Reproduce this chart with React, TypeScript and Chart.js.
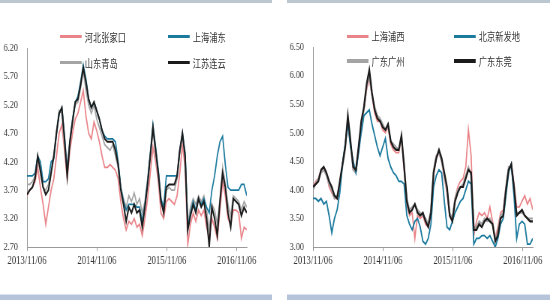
import React, { useEffect, useRef } from "react";
import { Chart, registerables } from "chart.js";
Chart.register(...registerables);

// x positions are two-week steps from 2013/11/06
const xTickLabels = ["2013/11/06", "2014/11/06", "2015/11/06", "2016/11/06"];
const xTickIndex = [0, 26.1, 52.2, 78.3];

// ---- left chart ----
const leftNames = ["河北张家口", "上海浦东", "山东青岛", "江苏连云"];
const leftYTicks = [2.7, 3.2, 3.7, 4.2, 4.7, 5.2, 5.7, 6.2];
const leftPink = [3.60, 3.70, 3.75, 3.85, 4.10, 3.75, 3.45, 3.10, 3.40, 3.70, 3.90, 4.30, 4.70, 4.85, 4.40, 3.90, 4.40, 4.70, 4.95, 5.05, 5.25, 5.45, 5.00, 4.70, 4.60, 4.90, 4.75, 4.55, 4.30, 4.10, 4.10, 4.15, 4.10, 4.05, 3.90, 3.50, 3.20, 3.00, 3.15, 3.10, 3.20, 3.05, 3.10, 2.90, 3.20, 3.55, 4.00, 4.45, 4.20, 3.85, 3.30, 3.20, 3.50, 3.55, 3.50, 3.45, 3.60, 4.00, 4.50, 4.10, 2.75, 3.10, 3.30, 3.15, 3.35, 3.25, 3.35, 3.05, 2.85, 3.20, 3.05, 2.85, 3.35, 3.85, 3.60, 3.20, 3.10, 3.35, 3.35, 3.30, 2.85, 3.05, 3.00];
const leftTeal = [3.95, 3.95, 3.95, 4.00, 4.30, 4.20, 3.85, 3.85, 3.90, 4.20, 4.25, 4.70, 5.05, 5.15, 4.65, 4.05, 4.55, 4.95, 5.25, 5.35, 5.60, 5.90, 5.65, 5.30, 5.15, 5.25, 5.10, 4.95, 4.75, 4.65, 4.60, 4.60, 4.60, 4.55, 4.20, 3.75, 3.50, 3.35, 3.45, 3.45, 3.45, 3.40, 3.40, 3.15, 3.45, 3.85, 4.35, 4.85, 4.45, 4.05, 3.55, 3.40, 3.95, 3.95, 3.95, 3.95, 3.95, 4.40, 4.70, 4.35, 3.05, 3.30, 3.50, 3.35, 3.55, 3.45, 3.55, 3.40, 3.30, 3.70, 3.95, 4.30, 4.55, 4.65, 4.15, 3.75, 3.70, 3.70, 3.70, 3.70, 3.80, 3.80, 3.60];
const leftGray = [3.80, 3.80, 3.85, 3.95, 4.25, 4.00, 3.75, 3.70, 3.80, 4.05, 4.30, 4.75, 5.10, 5.05, 4.50, 4.10, 4.60, 4.95, 5.20, 5.25, 5.50, 5.80, 5.45, 5.20, 5.05, 5.20, 4.95, 4.80, 4.65, 4.50, 4.45, 4.40, 4.50, 4.30, 4.10, 3.75, 3.55, 3.40, 3.60, 3.50, 3.65, 3.45, 3.55, 3.30, 3.50, 3.90, 4.30, 4.75, 4.35, 3.95, 3.50, 3.35, 3.70, 3.75, 3.70, 3.70, 3.90, 4.35, 4.65, 4.25, 3.10, 3.40, 3.55, 3.45, 3.60, 3.50, 3.60, 3.35, 3.00, 3.45, 3.35, 3.10, 3.55, 4.10, 3.80, 3.45, 3.25, 3.60, 3.55, 3.50, 3.35, 3.50, 3.40];
const leftBlack = [3.62, 3.70, 3.75, 3.90, 4.30, 4.05, 3.75, 3.62, 3.70, 4.00, 4.30, 4.70, 5.05, 5.15, 4.60, 3.95, 4.55, 4.90, 5.25, 5.30, 5.55, 5.85, 5.60, 5.30, 5.15, 5.25, 5.10, 4.95, 4.75, 4.60, 4.55, 4.55, 4.55, 4.40, 4.15, 3.70, 3.45, 3.15, 3.40, 3.30, 3.45, 3.30, 3.35, 3.05, 3.40, 3.80, 4.30, 4.80, 4.40, 4.00, 3.50, 3.30, 3.75, 3.80, 3.80, 3.80, 3.95, 4.40, 4.70, 4.30, 3.00, 3.25, 3.45, 3.30, 3.55, 3.40, 3.50, 3.20, 2.72, 3.40, 3.20, 2.90, 3.50, 4.00, 3.75, 3.30, 3.05, 3.55, 3.50, 3.45, 3.25, 3.40, 3.30];

// ---- right chart ----
const rightNames = ["上海浦西", "北京新发地", "广东广州", "广东东莞"];
const rightYTicks = [3.0, 3.5, 4.0, 4.5, 5.0, 5.5, 6.0, 6.5];
const rightPink = [4.05, 4.15, 4.20, 4.35, 4.40, 4.30, 4.05, 3.95, 3.85, 3.85, 4.10, 4.45, 4.75, 5.20, 4.80, 4.35, 4.30, 4.70, 5.15, 5.40, 5.75, 5.95, 5.65, 5.35, 5.20, 5.20, 5.05, 5.00, 5.10, 4.80, 4.70, 4.65, 4.65, 4.90, 4.35, 3.75, 3.55, 3.60, 3.15, 3.55, 3.50, 3.55, 3.40, 3.35, 3.55, 4.25, 4.55, 4.65, 4.50, 4.20, 3.95, 3.55, 3.50, 3.85, 4.05, 4.15, 4.20, 4.40, 5.05, 4.60, 3.20, 3.45, 3.60, 3.55, 3.60, 3.50, 3.70, 3.45, 3.15, 3.35, 3.60, 3.65, 4.05, 4.35, 4.45, 4.10, 3.70, 3.70, 3.80, 3.90, 3.75, 3.85, 3.65];
const rightTeal = [3.85, 3.85, 3.80, 3.85, 3.75, 3.80, 3.55, 3.25, 3.50, 3.65, 3.95, 4.45, 4.80, 5.15, 4.75, 4.50, 4.30, 4.65, 5.00, 5.30, 5.35, 5.40, 5.15, 4.95, 4.75, 4.60, 4.75, 4.90, 4.55, 4.40, 4.30, 4.25, 4.15, 4.15, 4.10, 3.55, 3.40, 3.30, 3.45, 3.50, 3.35, 3.10, 3.05, 3.15, 3.40, 4.05, 4.25, 4.35, 4.30, 3.80, 3.35, 3.30, 3.45, 3.60, 3.70, 3.80, 3.85, 4.00, 4.15, 4.10, 3.05, 3.15, 3.15, 3.20, 3.20, 3.15, 3.20, 3.10, 3.00, 3.15, 3.40, 3.50, 3.90, 4.30, 4.45, 3.90, 3.15, 3.40, 3.45, 3.40, 3.05, 3.05, 3.15];
const rightGray = [4.00, 4.10, 4.20, 4.30, 4.35, 4.25, 4.10, 4.00, 3.85, 3.90, 4.10, 4.40, 4.70, 5.25, 4.80, 4.35, 4.30, 4.70, 5.15, 5.40, 5.80, 6.00, 5.65, 5.45, 5.30, 5.25, 5.15, 5.05, 5.10, 4.85, 4.80, 4.75, 4.70, 4.90, 4.45, 3.85, 3.65, 3.70, 3.75, 3.65, 3.60, 3.55, 3.50, 3.40, 3.65, 4.35, 4.60, 4.65, 4.50, 4.25, 4.00, 3.60, 3.50, 3.85, 4.00, 4.05, 4.10, 4.25, 4.40, 4.25, 3.35, 3.35, 3.45, 3.40, 3.50, 3.45, 3.50, 3.40, 3.15, 3.25, 3.55, 3.60, 4.05, 4.40, 4.40, 4.00, 3.60, 3.60, 3.60, 3.55, 3.50, 3.50, 3.50];
const rightBlack = [4.05, 4.10, 4.15, 4.35, 4.40, 4.30, 4.15, 4.05, 3.90, 3.85, 4.15, 4.45, 4.75, 5.30, 4.85, 4.40, 4.35, 4.75, 5.20, 5.45, 5.85, 6.10, 5.70, 5.40, 5.25, 5.20, 5.10, 5.05, 5.15, 4.85, 4.75, 4.70, 4.70, 4.95, 4.40, 3.80, 3.60, 3.65, 3.75, 3.60, 3.55, 3.60, 3.45, 3.35, 3.60, 4.30, 4.55, 4.70, 4.55, 4.30, 4.05, 3.55, 3.45, 3.80, 3.95, 4.05, 4.05, 4.20, 4.35, 4.30, 3.30, 3.30, 3.40, 3.35, 3.45, 3.50, 3.45, 3.40, 3.10, 3.20, 3.50, 3.55, 4.00, 4.35, 4.45, 4.05, 3.55, 3.60, 3.65, 3.55, 3.50, 3.45, 3.45];

const PINK = "#e98489";
const TEAL = "#1b7a9e";
const GRAY = "#a4a4a4";
const BLACK = "#1b1b1b";
const SQ = 0.75; // horizontal squeeze of the reference image

type Series = { name: string; values: number[]; color: string; width: number; legendWidth: number };

function Panel(props: {
  left: number;
  width: number;
  series: Series[];
  yTicks: number[];
  top: number;
  padRight: number;
  legendRows: number[];
  legendCols: number[];
}) {
  const ref = useRef<HTMLCanvasElement>(null);
  const { width, series, yTicks, top, padRight } = props;
  useEffect(() => {
    if (!ref.current) return;
    // datasets: first in array drawn on top
    const ordered = [series[3], series[1], series[2], series[0]];
    const chart = new Chart(ref.current, {
      type: "line",
      data: {
        datasets: ordered.map((s) => ({
          label: s.name,
          data: s.values.map((v, i) => ({ x: i, y: v })),
          borderColor: s.color,
          backgroundColor: s.color,
          borderWidth: s.width,
          pointRadius: 0,
          tension: 0,
          fill: false,
        })),
      },
      options: {
        responsive: false,
        animation: false,
        devicePixelRatio: 1,
        layout: { padding: { top, bottom: 18, left: 0, right: padRight } },
        plugins: { legend: { display: false }, tooltip: { enabled: false } },
        scales: {
          x: {
            type: "linear",
            min: 0,
            max: series[0].values.length - 1,
            afterBuildTicks: (s: any) => {
              s.ticks = xTickIndex.map((v) => ({ value: v }));
            },
            afterFit: (s: any) => {
              s.height = 30;
            },
            grid: { drawOnChartArea: false, drawTicks: true, tickLength: 4, color: "#9a9a9a" },
            border: { color: "#9a9a9a", width: 1 },
            ticks: {
              autoSkip: false,
              maxRotation: 0,
              padding: 3,
              color: "#333",
              font: { family: '"Liberation Serif", serif', size: 11.5 },
              callback: (_v: any, i: number) => xTickLabels[i],
            },
          },
          y: {
            type: "linear",
            min: yTicks[0],
            max: yTicks[yTicks.length - 1],
            afterBuildTicks: (s: any) => {
              s.ticks = yTicks.map((v) => ({ value: v }));
            },
            afterFit: (s: any) => {
              s.width = 36;
            },
            grid: { display: false },
            border: { color: "#9a9a9a", width: 1 },
            ticks: {
              padding: 4,
              color: "#333",
              font: { family: '"Liberation Serif", serif', size: 11 },
              callback: (v: any) => Number(v).toFixed(2),
            },
          },
        },
      },
    } as any);
    return () => chart.destroy();
  }, []);

  return (
    <div
      style={{
        position: "absolute",
        left: props.left,
        top: 0,
        width,
        height: 295,
        transform: `scaleX(${SQ})`,
        transformOrigin: "0 0",
      }}
    >
      <canvas ref={ref} width={width} height={295} style={{ display: "block" }} />
      {series.map((s, k) => {
        const row = props.legendRows[Math.floor(k / 2)];
        const col = props.legendCols[k % 2];
        return (
          <React.Fragment key={s.name}>
            <div
              style={{
                position: "absolute",
                left: col,
                top: row - s.legendWidth / 2,
                width: 29,
                height: s.legendWidth,
                background: s.color,
              }}
            />
            <span
              style={{
                position: "absolute",
                left: col + 33,
                top: row - 8,
                lineHeight: "16px",
                fontSize: 11,
                fontFamily: '"Noto Sans CJK SC", sans-serif',
                color: "#333",
                whiteSpace: "nowrap",
              }}
            >
              {s.name}
            </span>
          </React.Fragment>
        );
      })}
    </div>
  );
}

export default function App() {
  const leftSeries: Series[] = [
    { name: leftNames[0], values: leftPink, color: PINK, width: 1.7, legendWidth: 3 },
    { name: leftNames[1], values: leftTeal, color: TEAL, width: 1.7, legendWidth: 2.5 },
    { name: leftNames[2], values: leftGray, color: GRAY, width: 1.7, legendWidth: 3 },
    { name: leftNames[3], values: leftBlack, color: BLACK, width: 2, legendWidth: 3 },
  ];
  const rightSeries: Series[] = [
    { name: rightNames[0], values: rightPink, color: PINK, width: 1.7, legendWidth: 3 },
    { name: rightNames[1], values: rightTeal, color: TEAL, width: 1.8, legendWidth: 3 },
    { name: rightNames[2], values: rightGray, color: GRAY, width: 2, legendWidth: 4 },
    { name: rightNames[3], values: rightBlack, color: BLACK, width: 2.2, legendWidth: 4 },
  ];
  return (
    <div
      style={{
        position: "fixed",
        left: 0,
        top: 0,
        width: 550,
        height: 300,
        background: "#fff",
        overflow: "hidden",
      }}
    >
      <div style={{ position: "absolute", left: 0, top: 0, width: 272, height: 3, background: "#bcc6cf" }} />
      <div style={{ position: "absolute", left: 287, top: 0, width: 263, height: 3, background: "#bcc6cf" }} />
      <Panel
        left={0}
        width={363}
        series={leftSeries}
        yTicks={leftYTicks}
        top={48}
        padRight={34}
        legendRows={[36.5, 62.5]}
        legendCols={[80, 224]}
      />
      <Panel
        left={286}
        width={352}
        series={rightSeries}
        yTicks={rightYTicks}
        top={47}
        padRight={23}
        legendRows={[36, 61]}
        legendCols={[81, 224]}
      />
      <div style={{ position: "absolute", left: 0, top: 294, width: 272, height: 1, background: "#dbe3ee" }} />
      <div style={{ position: "absolute", left: 287, top: 294, width: 263, height: 1, background: "#dbe3ee" }} />
      <div style={{ position: "absolute", left: 0, top: 295, width: 272, height: 5, background: "#b5c4db" }} />
      <div style={{ position: "absolute", left: 287, top: 295, width: 263, height: 5, background: "#b5c4db" }} />
    </div>
  );
}
